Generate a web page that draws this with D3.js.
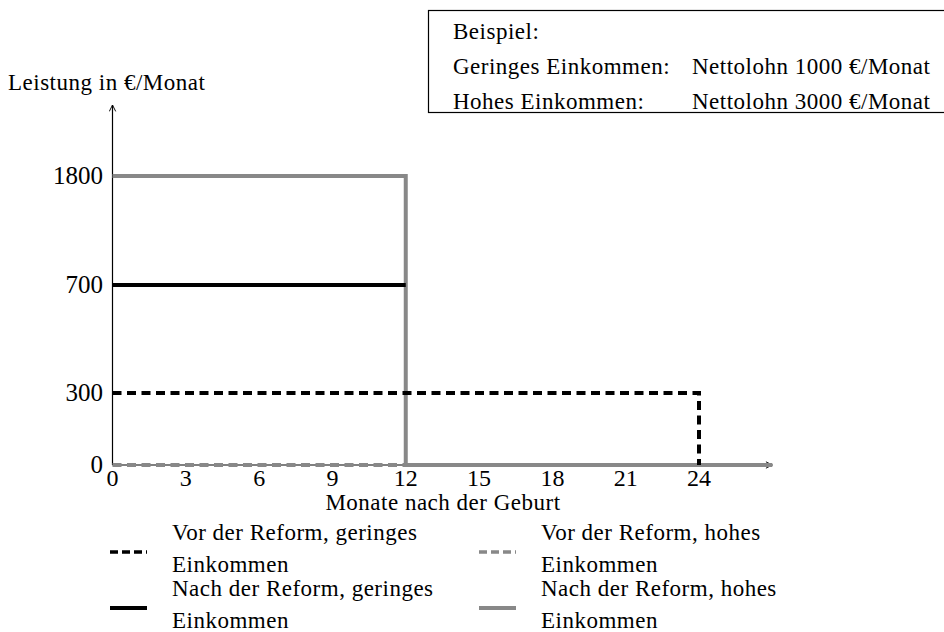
<!DOCTYPE html>
<html>
<head>
<meta charset="utf-8">
<script src="https://cdn.jsdelivr.net/npm/d3@7"></script>
<style>
  body { margin: 0; background: #fff; }
  text { font-family: "Liberation Serif", serif; fill: #000; }
  .label { font-size: 23px; letter-spacing: 0.5px; }
</style>
</head>
<body>
<div id="chart"></div>
<script>
// Data
const monthTicks = [0, 3, 6, 9, 12, 15, 18, 21, 24];
const valueTicks = [0, 300, 700, 1800];

const vorGeringMonths = [0, 24, 24];
const vorGeringValues = [300, 300, 0];
const nachGeringMonths = [0, 12];
const nachGeringValues = [700, 700];
const vorHochMonths = [0, 12];
const vorHochValues = [0, 0];
const nachHochMonths = [0, 12, 12, 27];
const nachHochValues = [1800, 1800, 0, 0];

const legendLabels = [
  ['Vor der Reform, geringes', 'Einkommen'],
  ['Nach der Reform, geringes', 'Einkommen'],
  ['Vor der Reform, hohes', 'Einkommen'],
  ['Nach der Reform, hohes', 'Einkommen']
];
const boxLines = [
  ['Beispiel:', ''],
  ['Geringes Einkommen:', 'Nettolohn 1000 €/Monat'],
  ['Hohes Einkommen:', 'Nettolohn 3000 €/Monat']
];

const gray = '#888';

const svg = d3.select('#chart')
  .append('svg')
  .attr('width', 944)
  .attr('height', 632);

// Scales (y axis is not proportional in the original, so piecewise)
const x = d3.scaleLinear().domain([0, 24]).range([112.5, 699]);
const y = d3.scaleLinear().domain(valueTicks).range([465, 393, 285, 176]);

// Arrow marker
svg.append('defs').append('marker')
  .attr('id', 'arrow')
  .attr('viewBox', '0 0 10 10')
  .attr('refX', 9).attr('refY', 5)
  .attr('markerWidth', 8).attr('markerHeight', 8)
  .attr('markerUnits', 'userSpaceOnUse')
  .attr('orient', 'auto')
  .append('path')
  .attr('d', 'M1,1 L9,5 L1,9')
  .attr('fill', 'none')
  .attr('stroke', '#000')
  .attr('stroke-width', 1.2);

// Axes lines
svg.append('line')
  .attr('x1', x(0)).attr('x2', x(27))
  .attr('y1', y(0)).attr('y2', y(0))
  .attr('stroke', '#000').attr('stroke-width', 1.2)
  .attr('marker-end', 'url(#arrow)');
svg.append('line')
  .attr('x1', x(0)).attr('x2', x(0))
  .attr('y1', y(0)).attr('y2', 105)
  .attr('stroke', '#000').attr('stroke-width', 1.2)
  .attr('marker-end', 'url(#arrow)');

// Tick labels
svg.selectAll('.xtick')
  .data(monthTicks)
  .enter().append('text')
  .attr('class', 'xtick')
  .attr('x', d => x(d))
  .attr('y', 486)
  .attr('text-anchor', 'middle')
  .attr('font-size', 24)
  .text(d => d);

svg.selectAll('.ytick')
  .data(valueTicks)
  .enter().append('text')
  .attr('class', 'ytick')
  .attr('x', 103)
  .attr('y', d => y(d) + 8)
  .attr('text-anchor', 'end')
  .attr('font-size', 25)
  .text(d => d);

// Axis titles
svg.append('text')
  .attr('class', 'label')
  .attr('x', 8).attr('y', 90)
  .text('Leistung in €/Monat');
svg.append('text')
  .attr('class', 'label')
  .attr('x', 443).attr('y', 510)
  .attr('text-anchor', 'middle')
  .text('Monate nach der Geburt');

// Lines
const line = d3.line().x(d => x(d[0])).y(d => y(d[1]));
const series = [
  { m: nachHochMonths, v: nachHochValues, color: gray, dash: null },
  { m: vorHochMonths, v: vorHochValues, color: gray, dash: '9,5.5' },
  { m: nachGeringMonths, v: nachGeringValues, color: '#000', dash: null },
  { m: vorGeringMonths, v: vorGeringValues, color: '#000', dash: '9,5.5' }
];
svg.selectAll('.series')
  .data(series)
  .enter().append('path')
  .attr('class', 'series')
  .attr('d', d => line(d.m.map((m, i) => [m, d.v[i]])))
  .attr('fill', 'none')
  .attr('stroke', d => d.color)
  .attr('stroke-width', 4)
  .attr('stroke-dasharray', d => d.dash);

// Legend
const legendItems = [
  { color: '#000', dash: '8,4', col: 0, row: 0 },
  { color: '#000', dash: null, col: 0, row: 1 },
  { color: gray, dash: '8,4', col: 1, row: 0 },
  { color: gray, dash: null, col: 1, row: 1 }
];
const legend = svg.selectAll('.legend')
  .data(legendItems)
  .enter().append('g')
  .attr('class', 'legend')
  .attr('transform', d => `translate(${d.col ? 479 : 110},${d.row ? 608 : 552})`);
legend.append('line')
  .attr('x1', 0).attr('x2', 37)
  .attr('stroke', d => d.color)
  .attr('stroke-width', d => d.dash ? 3.5 : 4)
  .attr('stroke-dasharray', d => d.dash);
legend.append('text')
  .attr('class', 'label')
  .attr('x', 62).attr('y', -12)
  .text((d, i) => legendLabels[i][0]);
legend.append('text')
  .attr('class', 'label')
  .attr('x', 62).attr('y', 20)
  .text((d, i) => legendLabels[i][1]);

// Example box
svg.append('rect')
  .attr('x', 428.5).attr('y', 10.5)
  .attr('width', 530).attr('height', 102)
  .attr('fill', 'none')
  .attr('stroke', '#000')
  .attr('stroke-width', 1.2);
boxLines.forEach((b, i) => {
  svg.append('text')
    .attr('class', 'label')
    .attr('x', 453).attr('y', 39 + i * 35)
    .text(b[0]);
  svg.append('text')
    .attr('class', 'label')
    .attr('x', 692).attr('y', 39 + i * 35)
    .text(b[1]);
});
</script>
</body>
</html>
